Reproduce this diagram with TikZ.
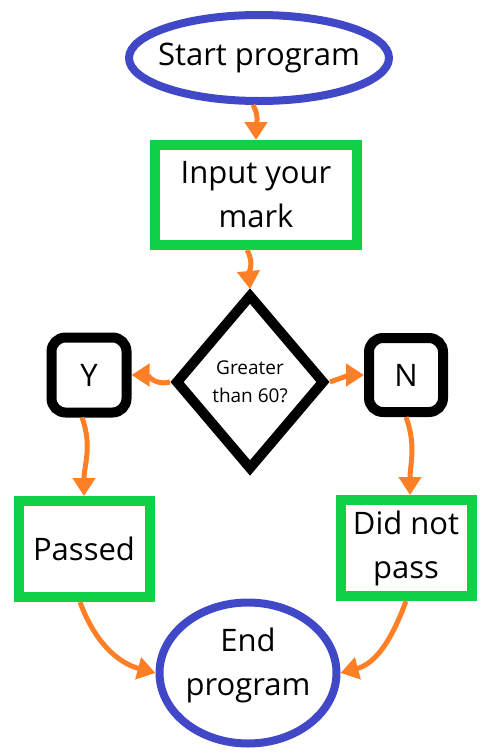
\documentclass[tikz,border=0pt]{standalone}
\usepackage{fontspec}
\setmainfont{Open Sans}
\usetikzlibrary{shapes.geometric,arrows.meta}
\definecolor{termblue}{RGB}{64,72,200}
\definecolor{boxgreen}{RGB}{16,208,72}
\definecolor{flowor}{RGB}{255,127,39}

\begin{document}
\begin{tikzpicture}[x=1pt,y=-1pt,
	term/.style={ellipse,draw=termblue,line width=8pt,inner sep=0pt},
	termtext/.style={align=center,inner sep=0pt,font=\fontsize{31}{44}\selectfont},
	io/.style={rectangle,draw=boxgreen,line width=10pt,inner sep=0pt,align=center,font=\fontsize{31}{44}\selectfont},
	choice/.style={diamond,draw,line width=10pt,inner sep=0pt,align=center,font=\fontsize{19}{28}\selectfont},
	answer/.style={rectangle,rounded corners=14pt,draw,line width=10pt,minimum width=75pt,minimum height=75pt,font=\fontsize{31}{44}\selectfont},
	flow/.style={draw=flowor,line width=5pt,-{Triangle[width=22pt,length=18pt]}}]
	\useasboundingbox (0,0) rectangle (489,755);
	\node[term,minimum width=260pt,minimum height=86pt,label={[termtext]center:Start program}] (start) at (259,58) {};
	\node[io,minimum width=202pt,minimum height=100pt] (input) at (256,195) {Input your\\mark};
	\node[choice,minimum width=150pt,minimum height=176pt] (check) at (250,382) {Greater\\than 60?};
	\node[answer] (yes) at (89,375) {Y};
	\node[answer,minimum width=74pt,minimum height=74pt] (no) at (406,375) {N};
	\node[io,minimum width=131pt,minimum height=96pt] (pass) at (84,549) {Passed};
	\node[io,minimum width=131pt,minimum height=96pt] (fail) at (406,548) {Did not\\pass};
	\node[term,minimum width=177pt,minimum height=141pt,label={[termtext,yshift=8pt]center:End\\program}] (end) at (248,673) {};
	\draw[flow] ([xshift=-6pt]start.south) to[out=-60,in=90] (input.north);
	\draw[flow] ([xshift=-9pt]input.south) to[out=-60,in=95] (check.north);
	\draw[flow] (check.west) to[out=195,in=0] (yes.east);
	\draw[flow] (check.east) to[out=20,in=180] (no.west);
	\draw[flow] ([xshift=-7pt]yes.south) to[out=-70,in=90] (pass.north);
	\draw[flow] (no.south) to[out=-70,in=90] ([xshift=4pt]fail.north);
	\draw[flow] ([xshift=-4pt]pass.south) to[out=-70,in=165] (end.west);
	\draw[flow] (fail.south) to[out=-110,in=15] (end.east);
\end{tikzpicture}
\end{document}
